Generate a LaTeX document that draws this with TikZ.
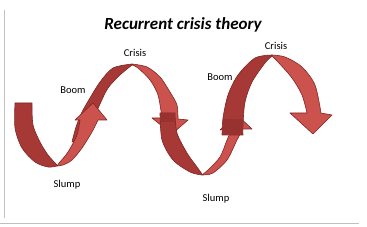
\documentclass[tikz,border=0pt]{standalone}
\usepackage{fontspec}
\setmainfont{Carlito}
\definecolor{facelight}{RGB}{204,82,78}
\definecolor{facedark}{RGB}{166,56,54}
\definecolor{facedeep}{RGB}{152,50,48}
\definecolor{edgered}{RGB}{128,38,36}
\definecolor{framegray}{RGB}{192,192,192}
\begin{document}
\begin{tikzpicture}[x=1pt,y=-1pt,
        lightface/.style={fill=facelight, draw=edgered, line width=0.6pt, line join=round},
        darkface/.style={fill=facedark, draw=edgered, line width=0.6pt, line join=round},
        deepface/.style={fill=facedeep},
        lbl/.style={font=\fontsize{10.5}{12}\selectfont}]
        \useasboundingbox (0,0) rectangle (367,227);
        \draw[framegray, line width=0.8pt] (4,10) -- (4,218);
        \draw[framegray, line width=0.8pt] (0,223) -- (359,223);
        \node (title) at (183,25) {\fontsize{17}{20}\selectfont\bfseries\itshape Recurrent crisis theory};
        % first arch (boom to crisis)
        \path[darkface] plot[smooth] coordinates {(72,142) (76,127) (82,112) (90,98) (100,82) (113,68) (132,64)}
            -- plot[smooth] coordinates {(132,65) (120,75) (108,88) (100,104) (94,118) (86,140)} -- cycle;
        \path[lightface] plot[smooth] coordinates {(132,64) (147,67) (160,77) (170,92) (177,105) (178,119)}
            -- (188,120) -- (172,134) -- (152,118) -- (162,118)
            -- plot[smooth] coordinates {(162,118) (158,95) (150,80) (138,68) (132,65)} -- cycle;
        % first trough (slump)
        \path[darkface] plot[smooth] coordinates {(15,103) (15,128) (22,148) (35,162) (48,167) (57,166)}
            -- plot[smooth] coordinates {(57,165) (48,155) (40,142) (33,125) (32,103)} -- cycle;
        \path[lightface] plot[smooth] coordinates {(57,166) (60,162) (68,152) (77,135) (80,120)}
            -- (75,120) -- (93,103) -- (107,120) -- (98,120)
            -- plot[smooth] coordinates {(98,120) (92,132) (82,148) (72,160) (63,165) (57,166)} -- cycle;
        % second trough (slump)
        \path[darkface] plot[smooth] coordinates {(160,113) (162,140) (173,160) (190,172) (202,175)}
            -- plot[smooth] coordinates {(202,174) (197,167) (187,153) (177,133) (175,113)} -- cycle;
        \path[deepface] (160.5,113.5) rectangle (175,122);
        \path[lightface] plot[smooth] coordinates {(202,175) (208,170) (220,157) (227,140) (232,129)}
            -- (220,130) -- (236,114) -- (252,129) -- (243,129)
            -- plot[smooth] coordinates {(243,129) (237,140) (227,160) (213,173) (202,175)} -- cycle;
        % second arch (boom to crisis)
        \path[darkface] plot[smooth] coordinates {(222,135) (223,118) (228,95) (238,75) (255,58) (272,55)}
            -- plot[smooth] coordinates {(272,56) (265,63) (252,82) (245,102) (243,125) (243,135)} -- cycle;
        \path[deepface] (222.5,119) rectangle (242.5,134.5);
        \path[lightface] plot[smooth] coordinates {(272,55) (285,57) (302,67) (315,85) (321,113)}
            -- (332,115) -- (313,134) -- (290,113) -- (307,113)
            -- plot[smooth] coordinates {(307,113) (302,95) (292,78) (278,62) (272,56)} -- cycle;
        % labels
        \node[lbl] (crisisA) at (135,53) {Crisis};
        \node[lbl] (boomA) at (73,90) {Boom};
        \node[lbl] (slumpA) at (67,185) {Slump};
        \node[lbl] (crisisB) at (276,46) {Crisis};
        \node[lbl] (boomB) at (220,77) {Boom};
        \node[lbl] (slumpB) at (216,199) {Slump};
    \end{tikzpicture}
\end{document}
